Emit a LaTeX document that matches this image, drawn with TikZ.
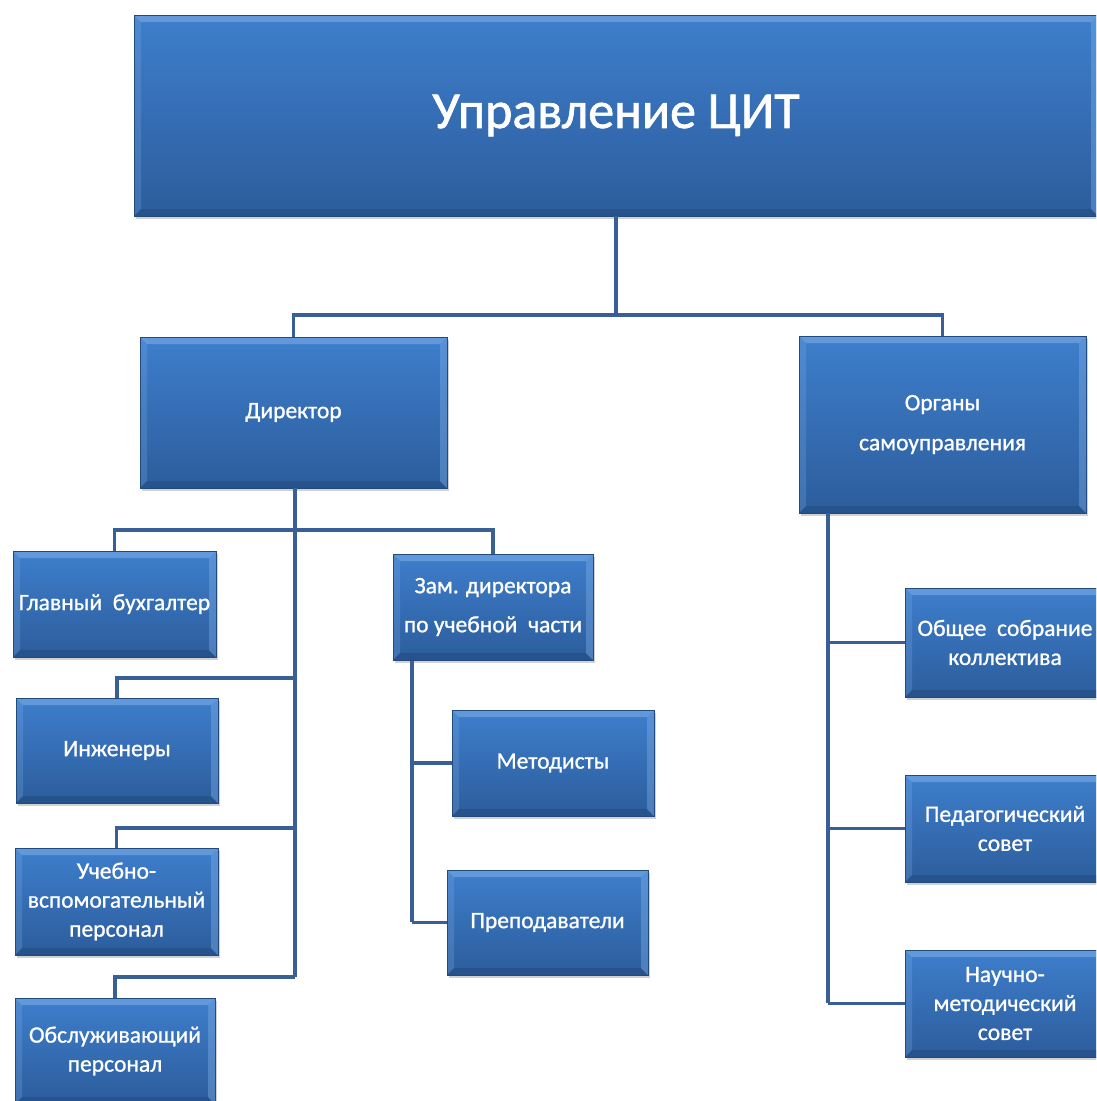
\documentclass[tikz,border=0pt]{standalone}
\usepackage{fontspec}
\setmainfont{Carlito}
\newfontfamily\boxfont{Carlito}[FakeBold=1.0]
\newfontfamily\titlefont{Carlito}[FakeBold=1.3]
\usetikzlibrary{shadows}
\definecolor{boxtop}{HTML}{3E7ECC}
\definecolor{boxbot}{HTML}{2C5D9C}
\definecolor{lineblue}{HTML}{395F97}
\definecolor{bevlight}{HTML}{7FB0E8}
\definecolor{bevdark}{HTML}{1F4678}
\tikzset{
  x=1pt, y=1pt,
  orgbox/.style={rectangle, inner sep=0pt, text=white, align=center,
    top color=boxtop, bottom color=boxbot, draw=boxbot!80!black, line width=0.6pt,
    drop shadow={shadow xshift=1.5pt, shadow yshift=-3pt, opacity=0.3, fill=black!60},
    font=\boxfont\fontsize{23.5}{29}\selectfont,
    path picture={
      \coordinate (nw) at (path picture bounding box.north west);
      \coordinate (ne) at (path picture bounding box.north east);
      \coordinate (sw) at (path picture bounding box.south west);
      \coordinate (se) at (path picture bounding box.south east);
      \fill[bevlight, opacity=0.55] (nw) -- (ne) -- ([shift={(-7pt,-7pt)}]ne) -- ([shift={(7pt,-7pt)}]nw) -- cycle;
      \fill[bevlight, opacity=0.25] (nw) -- ([shift={(7pt,-7pt)}]nw) -- ([shift={(7pt,7pt)}]sw) -- (sw) -- cycle;
      \fill[bevdark, opacity=0.45] (sw) -- (se) -- ([shift={(-7pt,7pt)}]se) -- ([shift={(7pt,7pt)}]sw) -- cycle;
      \fill[bevlight, opacity=0.4] (ne) -- (se) -- ([shift={(-7pt,7pt)}]se) -- ([shift={(-7pt,-7pt)}]ne) -- cycle;
    }},
  conn/.style={draw=lineblue, line width=3.8pt, line join=miter}
}
\newcommand{\orgnode}[7][]{%
  \node[orgbox, minimum width={#5-#3}, minimum height={#6-#4}, #1] (#2)
    at ({(#3+#5)/2},{-(#4+#6)/2}) {#7};}
\begin{document}
\begin{tikzpicture}
\useasboundingbox (0,0) rectangle (1096,-1101);
\begin{scope}
\clip (0,0) rectangle (1096,-1101);
\coordinate (j1) at (616,-315);
\coordinate (d0) at (295,-488);
\coordinate (d1) at (295,-530);
\coordinate (d2) at (295,-678);
\coordinate (d3) at (295,-828);
\coordinate (d4) at (295,-977);
\coordinate (z0) at (412,-660);
\coordinate (z2) at (412,-922);
\coordinate (o0) at (828,-513);
\coordinate (o3) at (828,-1003);

\orgnode[font=\titlefont\fontsize{52}{60}\selectfont]{top}{134}{15}{1098}{216}{Управление ЦИТ}
\orgnode{dir}{140}{337}{447}{488}{Директор}
\orgnode[font=\boxfont\fontsize{23.5}{40}\selectfont]{org}{799}{336}{1086}{513}{Органы\\самоуправления}

\draw[conn] (top.south) -- (j1);
\draw[conn] (dir.north) |- (j1) -| (org.north);
\draw[conn] (d0) -- (d4);
\draw[conn] (z0) -- (z2);
\draw[conn] (o0) -- (o3);

\orgnode{gb}{13}{551}{216}{657}{Главный\ \ бухгалтер}
\orgnode[font=\boxfont\fontsize{23.5}{39}\selectfont]{zam}{393}{554}{593}{660}{Зам. директора\\по учебной\ \ части}
\orgnode{ing}{16}{698}{218}{803}{Инженеры}
\orgnode{ucheb}{15}{848}{218}{955}{Учебно-\\вспомогательный\\персонал}
\orgnode{obsl}{15}{998}{215}{1104}{Обслуживающий\\персонал}
\orgnode{met}{452}{710}{654}{816}{Методисты}
\orgnode{prep}{447}{870}{648}{975}{Преподаватели}
\orgnode{obsh}{905}{588}{1105}{697}{Общее\ \ собрание\\коллектива}
\orgnode{ped}{905}{775}{1105}{882}{Педагогический\\совет}
\orgnode{nauch}{905}{950}{1105}{1057}{Научно-\\методический\\совет}

\draw[conn] (d1) -| (gb.north);
\draw[conn] (d1) -| (zam.north);
\draw[conn] (d2) -| (ing.north);
\draw[conn] (d3) -| (ucheb.north);
\draw[conn] (d4) -| (obsl.north);
\draw[conn] (met.west -| z0) -- (met.west);
\draw[conn] (prep.west -| z0) -- (prep.west);
\draw[conn] (obsh.west -| o0) -- (obsh.west);
\draw[conn] (ped.west -| o0) -- (ped.west);
\draw[conn] (nauch.west -| o0) -- (nauch.west);
\end{scope}
\end{tikzpicture}
\end{document}
